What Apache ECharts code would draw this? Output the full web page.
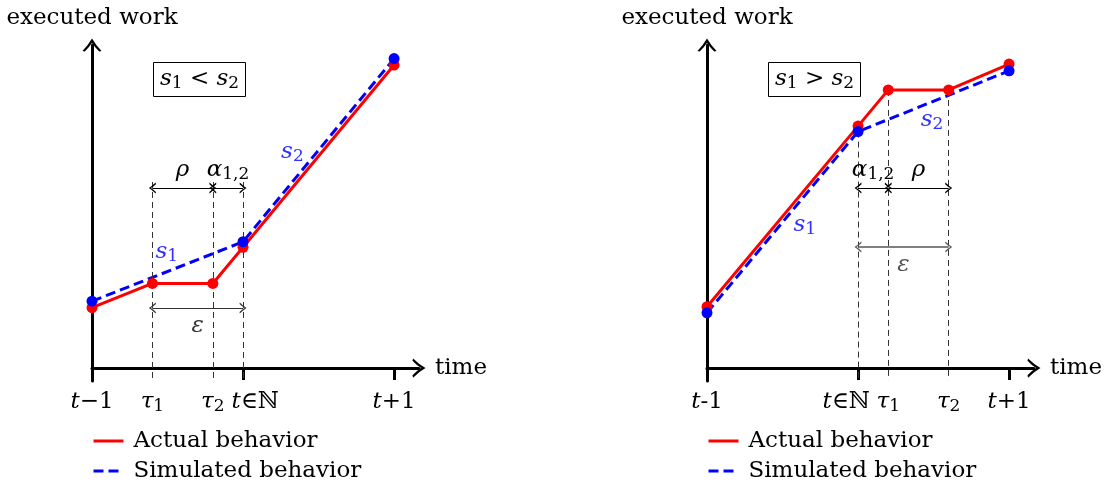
<!DOCTYPE html>
<html>
<head>
<meta charset="utf-8">
<script src="https://cdn.jsdelivr.net/npm/echarts@6/dist/echarts.min.js"></script>
<style>
  html, body { margin: 0; padding: 0; background: #fff; }
  #chart { width: 1107px; height: 488px; }
</style>
</head>
<body>
<div id="chart"></div>
<script>
// time axis: t-1 = 0, t = 1, t+1 = 2
const leftActualX = [0, 0.4, 0.8, 1, 2];
const leftActualY = [1.87, 2.62, 2.62, 3.74, 9.38];
const leftSimX = [0, 1, 2];
const leftSimY = [2.07, 3.91, 9.58];

const rightActualX = [0, 1, 1.2, 1.6, 2];
const rightActualY = [1.90, 7.49, 8.61, 8.61, 9.41];
const rightSimX = [0, 1, 2];
const rightSimY = [1.71, 7.32, 9.20];

const leftTickValues = [0, 0.4, 0.8, 1, 2];
const leftTickLabels = ['{i|t}{n|−1}', '{i|τ}{b|1}', '{i|τ}{b|2}', '{sp| }{i|t}{n|∈ℕ}', '{i|t}{n|+1}'];
const rightTickValues = [0, 1, 1.2, 1.6, 2];
const rightTickLabels = ['{i|t}{n|-1}', '{i|t}{n|∈ℕ}{sp| }', '{i|τ}{b|1}', '{i|τ}{b|2}', '{i|t}{n|+1}'];
const majorTicks = [0, 1, 2];

const FONT = 'DejaVu Serif';
const zip = (xs, ys) => xs.map((x, i) => [x, ys[i]]);

function makeRich(color, size) {
  return {
    i: { fontFamily: FONT, fontStyle: 'italic', fontWeight: 'normal', fontSize: size, lineHeight: 26, color: color },
    n: { fontFamily: FONT, fontWeight: 'normal', fontSize: size, lineHeight: 26, color: color },
    b: { fontFamily: FONT, fontWeight: 'normal', fontSize: Math.round(size * 0.72), lineHeight: 11, verticalAlign: 'bottom', color: color },
    sp: { fontSize: size, width: 24 }
  };
}

const axisArrow = 'path://M0,13 Q6,7 10,0 Q14,7 20,13 L17.6,13.6 Q13,9.5 10,4.5 Q7,9.5 2.4,13.6 Z';
const smallArrow = 'path://M0,10 Q3,5 5,0 Q7,5 10,10 L8.6,10.4 Q6,6 5,2.8 Q4,6 1.4,10.4 Z';

function vline(x, y0, y1) {
  return [
    { coord: [x, y0], symbol: 'none', lineStyle: { type: [6, 4], width: 1, color: '#333' }, label: { show: false } },
    { coord: [x, y1], symbol: 'none' }
  ];
}

function span(x0, x1, y, text, pos, color, width) {
  return [
    {
      coord: [x0, y], symbol: smallArrow,
      lineStyle: { type: 'solid', width: width, color: color },
      label: { show: true, position: pos, distance: 5, formatter: text, rich: makeRich(color, 23) }
    },
    { coord: [x1, y], symbol: smallArrow }
  ];
}

function sLabel(x, y, text) {
  return { coord: [x, y], label: { formatter: text } };
}

const blueText = '#3030ff';

function xAxisFor(gridIndex, values, labels) {
  return {
    type: 'value', gridIndex: gridIndex, min: 0, max: 2.165,
    name: 'time', nameLocation: 'end', nameGap: 16,
    nameTextStyle: { fontFamily: FONT, fontSize: 23, color: '#000', verticalAlign: 'middle' },
    axisLine: { show: true, onZero: true, symbol: ['none', axisArrow], symbolSize: [20, 13], lineStyle: { color: '#000', width: 3 } },
    axisTick: { show: true, customValues: majorTicks, length: 12, lineStyle: { color: '#000', width: 3 } },
    axisLabel: {
      show: true, customValues: values, margin: 8,
      formatter: v => labels[values.indexOf(v)] || '',
      rich: makeRich('#000', 23)
    },
    splitLine: { show: false }
  };
}

function yAxisFor(gridIndex) {
  return {
    type: 'value', gridIndex: gridIndex, min: -0.4, max: 10,
    name: 'executed work', nameLocation: 'end', nameGap: 15,
    nameTextStyle: { fontFamily: FONT, fontSize: 23, color: '#000' },
    axisLine: { show: true, onZero: true, symbol: ['none', axisArrow], symbolSize: [20, 13], lineStyle: { color: '#000', width: 3 } },
    axisTick: { show: false },
    axisLabel: { show: false },
    splitLine: { show: false }
  };
}

function panelSeries(gi, actual, sim, marks, labels) {
  return [
    {
      name: 'Actual behavior', type: 'line', xAxisIndex: gi, yAxisIndex: gi,
      data: actual, symbol: 'none', lineStyle: { color: '#ff0000', width: 3 }, itemStyle: { color: '#ff0000' },
      z: 3,
      markLine: { silent: true, symbolSize: [11, 7], animation: false, data: marks }
    },
    {
      name: 'Simulated behavior', type: 'line', xAxisIndex: gi, yAxisIndex: gi,
      data: sim, symbol: 'none', lineStyle: { color: '#0000ff', width: 3, type: [10, 5] }, itemStyle: { color: '#0000ff' },
      z: 4,
      markPoint: {
        silent: true, symbol: 'circle', symbolSize: 0, animation: false,
        label: { show: true, position: 'inside', rich: makeRich(blueText, 23) },
        data: labels
      }
    },
    {
      type: 'scatter', xAxisIndex: gi, yAxisIndex: gi, data: actual,
      symbol: 'circle', symbolSize: 11, itemStyle: { color: '#ff0000', opacity: 1 }, z: 5
    },
    {
      type: 'scatter', xAxisIndex: gi, yAxisIndex: gi, data: sim,
      symbol: 'circle', symbolSize: 11, itemStyle: { color: '#0000ff', opacity: 1 }, z: 6
    }
  ];
}

const leftMarks = [
  vline(0.4, 5.76, -0.37), vline(0.8, 5.76, -0.37), vline(1, 5.76, -0.37),
  span(0.4, 0.8, 5.57, '{i|ρ}', 'middle', '#000', 1),
  span(0.8, 1, 5.57, '{i|α}{b|1,2}', 'middle', '#000', 1),
  span(0.4, 1, 1.86, '{i|ε}', 'insideMiddleBottom', '#333', 1)
];
const rightMarks = [
  vline(1, 7.32, -0.37), vline(1.2, 8.61, -0.37), vline(1.6, 8.61, -0.37),
  span(1, 1.2, 5.57, '{i|α}{b|1,2}', 'middle', '#000', 1),
  span(1.2, 1.6, 5.57, '{i|ρ}', 'middle', '#000', 1),
  span(1, 1.6, 3.75, '{i|ε}', 'insideMiddleBottom', '#555', 1.5)
];
const leftLabels = [sLabel(0.495, 3.59, '{i|s}{b|1}'), sLabel(1.327, 6.69, '{i|s}{b|2}')];
const rightLabels = [sLabel(0.647, 4.43, '{i|s}{b|1}'), sLabel(1.49, 7.68, '{i|s}{b|2}')];

function legendFor(left) {
  return {
    data: ['Actual behavior', 'Simulated behavior'],
    orient: 'vertical', left: left, top: 429, padding: 0,
    itemWidth: 30, itemHeight: 14, itemGap: 6,
    selectedMode: false,
    itemStyle: { opacity: 0, borderWidth: 0 },
    lineStyle: { width: 3 },
    textStyle: { fontFamily: FONT, fontSize: 23, color: '#000', lineHeight: 24, padding: [0, 0, 0, 5] }
  };
}

function boxTitle(left, text) {
  return {
    text: text, left: left, top: 61, padding: [5, 7, 5, 7],
    borderColor: '#000', borderWidth: 1,
    textStyle: { fontWeight: 'normal', rich: makeRich('#000', 23) }
  };
}

const chart = echarts.init(document.getElementById('chart'), null, { renderer: 'canvas' });
chart.setOption({
  animation: false,
  backgroundColor: '#fff',
  title: [
    boxTitle(153, '{i|s}{b|1}{n| < }{i|s}{b|2}'),
    boxTitle(768, '{i|s}{b|1}{n| > }{i|s}{b|2}')
  ],
  legend: [legendFor(92), legendFor(707)],
  grid: [
    { left: 92, top: 45, width: 327, height: 336, outerBoundsMode: 'none' },
    { left: 707, top: 45, width: 327, height: 336, outerBoundsMode: 'none' }
  ],
  xAxis: [xAxisFor(0, leftTickValues, leftTickLabels), xAxisFor(1, rightTickValues, rightTickLabels)],
  yAxis: [yAxisFor(0), yAxisFor(1)],
  series: [
    ...panelSeries(0, zip(leftActualX, leftActualY), zip(leftSimX, leftSimY), leftMarks, leftLabels),
    ...panelSeries(1, zip(rightActualX, rightActualY), zip(rightSimX, rightSimY), rightMarks, rightLabels)
  ]
});
</script>
</body>
</html>
